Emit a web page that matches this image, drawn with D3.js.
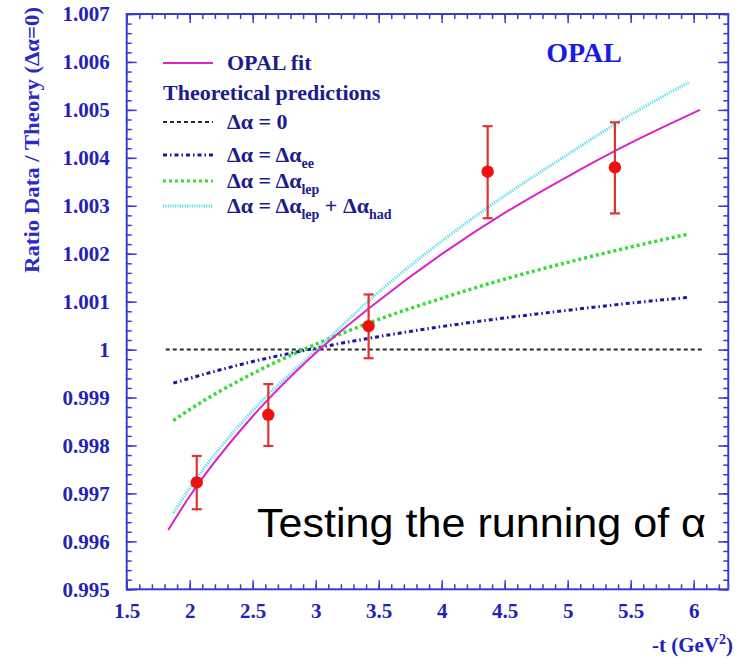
<!DOCTYPE html>
<html><head><meta charset="utf-8">
<script src="https://cdn.jsdelivr.net/npm/d3@7/dist/d3.min.js"></script>
<style>body{margin:0;background:#fff}svg{display:block}</style></head>
<body><svg id="c" width="737" height="659"></svg>
<script>
// ---- data ----
const xTicks = [1.5, 2, 2.5, 3, 3.5, 4, 4.5, 5, 5.5, 6];
const xTickLabels = ["1.5", "2", "2.5", "3", "3.5", "4", "4.5", "5", "5.5", "6"];
const yTicks = [0.995, 0.996, 0.997, 0.998, 0.999, 1.000, 1.001, 1.002, 1.003, 1.004, 1.005, 1.006, 1.007];
const yTickLabels = ["0.995", "0.996", "0.997", "0.998", "0.999", "1", "1.001", "1.002", "1.003", "1.004", "1.005", "1.006", "1.007"];

const pointT     = [2.056, 2.624, 3.42, 4.365, 5.375];
const pointRatio = [0.99723, 0.99864, 1.00049, 1.00371, 1.00380];
const errHigh    = [0.99778, 0.99928, 1.00115, 1.00466, 1.00474];
const errLow     = [0.99667, 0.99799, 0.99982, 1.00274, 1.00284];

const fitT     = [1.83, 2.0, 2.5, 3.0, 3.5, 4.0, 4.5, 5.0, 5.5, 6.05];
const fitRatio = [0.99624, 0.99694, 0.99861, 0.99993, 1.00102, 1.00199, 1.00285, 1.00361, 1.00431, 1.00500];

const zeroT     = [1.81, 6.08];
const zeroRatio = [1.0, 1.0];

const theoryT  = [1.87, 2.0, 2.5, 3.0, 3.5, 4.0, 4.5, 5.0, 5.5, 5.96];
const eeRatio  = [0.99930, 0.99940, 0.99975, 1.00003, 1.00027, 1.00048, 1.00066, 1.00082, 1.00097, 1.00109];
const lepRatio = [0.99852, 0.99875, 0.99950, 1.00011, 1.00063, 1.00107, 1.00147, 1.00182, 1.00214, 1.00241];
const hadRatio = [0.99659, 0.99711, 0.99873, 0.99998, 1.00120, 1.00226, 1.00321, 1.00407, 1.00490, 1.00557];

// ---- setup ----
const svg = d3.select("#c");
svg.append("rect").attr("width", 737).attr("height", 659).attr("fill", "#fff");
const X0 = 126.7, X1 = 728.3, Y0 = 14, Y1 = 589.3;
const x = d3.scaleLinear().domain([1.5, 6.275]).range([X0, X1]);
const y = d3.scaleLinear().domain([0.995, 1.007]).range([Y1, Y0]);

const AX = "#3a3acf", LAB = "#2222b8", NAVY = "#1c1c8c";
const SERIF = "'Liberation Serif','Times New Roman',serif";

const xMinor = d3.range(1.5, 6.27, 0.1).map(v => +v.toFixed(2));
const yMinor = d3.range(0.995, 1.00701, 0.0002).map(v => +v.toFixed(5));

function styleAxis(g) {
  g.select(".domain").remove();
  g.selectAll("line").attr("stroke", AX).attr("stroke-width", 1.5);
  g.selectAll("text").attr("fill", LAB).attr("font-family", SERIF)
    .attr("font-weight", "bold").attr("font-size", 21);
}
// bottom
svg.append("g").attr("transform", `translate(0,${Y1})`)
  .call(d3.axisBottom(x).tickValues(xMinor).tickSize(-5).tickFormat("")).call(styleAxis);
svg.append("g").attr("transform", `translate(0,${Y1})`)
  .call(d3.axisBottom(x).tickValues(xTicks).tickFormat((d, i) => xTickLabels[i])
    .tickSizeInner(-9).tickSizeOuter(0).tickPadding(14)).call(styleAxis);
// top
svg.append("g").attr("transform", `translate(0,${Y0})`)
  .call(d3.axisTop(x).tickValues(xMinor).tickSize(-5).tickFormat("")).call(styleAxis);
svg.append("g").attr("transform", `translate(0,${Y0})`)
  .call(d3.axisTop(x).tickValues(xTicks).tickSize(-9).tickFormat("")).call(styleAxis);
// left
svg.append("g").attr("transform", `translate(${X0},0)`)
  .call(d3.axisLeft(y).tickValues(yMinor).tickSize(-5).tickFormat("")).call(styleAxis);
svg.append("g").attr("transform", `translate(${X0},0)`)
  .call(d3.axisLeft(y).tickValues(yTicks).tickFormat((d, i) => yTickLabels[i])
    .tickSizeInner(-10).tickSizeOuter(0).tickPadding(17)).call(styleAxis);
// right
svg.append("g").attr("transform", `translate(${X1},0)`)
  .call(d3.axisRight(y).tickValues(yMinor).tickSize(-5).tickFormat("")).call(styleAxis);
svg.append("g").attr("transform", `translate(${X1},0)`)
  .call(d3.axisRight(y).tickValues(yTicks).tickSize(-10).tickFormat("")).call(styleAxis);

// frame
svg.append("rect").attr("x", X0).attr("y", Y0).attr("width", X1 - X0).attr("height", Y1 - Y0)
  .attr("fill", "none").attr("stroke", AX).attr("stroke-width", 2);

// ---- curves ----
const line = d3.line().x(d => x(d[0])).y(d => y(d[1])).curve(d3.curveMonotoneX);
const series = [
  { t: zeroT, r: zeroRatio, color: "#2a2a2a", width: 2, dash: "4,3" },
  { t: theoryT, r: eeRatio, color: "#1a1a9c", width: 3, dash: "4,3,1.5,3" },
  { t: theoryT, r: lepRatio, color: "#33dd33", width: 3.5, dash: "3,3" },
  { t: theoryT, r: hadRatio, color: "#5cdde6", width: 3, dash: "1.2,1.2" },
  { t: fitT, r: fitRatio, color: "#dd22cc", width: 2, dash: null }
];
series.forEach(s => {
  svg.append("path").datum(s.t.map((t, i) => [t, s.r[i]]))
    .attr("d", line).attr("fill", "none").attr("stroke", s.color)
    .attr("stroke-width", s.width).attr("stroke-dasharray", s.dash);
});

// ---- data points ----
const pts = pointT.map((t, i) => ({ t, r: pointRatio[i], hi: errHigh[i], lo: errLow[i] }));
const pg = svg.append("g");
pg.selectAll(".eb").data(pts).join("line")
  .attr("x1", d => x(d.t)).attr("x2", d => x(d.t)).attr("y1", d => y(d.hi)).attr("y2", d => y(d.lo))
  .attr("stroke", "#dd3333").attr("stroke-width", 2.2);
["hi", "lo"].forEach(k => {
  pg.selectAll(".cap" + k).data(pts).join("line")
    .attr("x1", d => x(d.t) - 5).attr("x2", d => x(d.t) + 5)
    .attr("y1", d => y(d[k])).attr("y2", d => y(d[k]))
    .attr("stroke", "#dd3333").attr("stroke-width", 2.2);
});
pg.selectAll("circle").data(pts).join("circle")
  .attr("cx", d => x(d.t)).attr("cy", d => y(d.r)).attr("r", 6.2).attr("fill", "#ee1111");

// ---- legend ----
const leg = svg.append("g").attr("font-family", SERIF).attr("font-weight", "bold").attr("fill", NAVY);
const legendRows = [
  { y: 63, s: series[4], label: [["OPAL fit"]] },
  { y: 122, s: series[0], label: [["Δα = 0"]] },
  { y: 155, s: series[1], label: [["Δα = Δα"], ["ee", "sub"]] },
  { y: 181, s: series[2], label: [["Δα = Δα"], ["lep", "sub"]] },
  { y: 206, s: series[3], label: [["Δα = Δα"], ["lep", "sub"], [" + Δα"], ["had", "sub"]] }
];
legendRows.forEach(r => {
  leg.append("line").attr("x1", 163).attr("x2", 213).attr("y1", r.y).attr("y2", r.y)
    .attr("stroke", r.s.color).attr("stroke-width", Math.min(r.s.width, 3)).attr("stroke-dasharray", r.s.dash);
  const t = leg.append("text").attr("x", 227).attr("y", r.y + 7).attr("font-size", 22);
  r.label.forEach(([txt, kind]) => {
    const ts = t.append("tspan").text(txt);
    if (kind === "sub") ts.attr("font-size", 14).attr("dy", 6);
    else if (r.label.length > 1 && txt.startsWith(" ")) ts.attr("dy", -6);
  });
});
leg.append("text").attr("x", 163).attr("y", 100).attr("font-size", 22).text("Theoretical predictions");

svg.append("text").attr("x", 584).attr("y", 62).attr("text-anchor", "middle")
  .attr("font-family", SERIF).attr("font-weight", "bold").attr("font-size", 28)
  .attr("fill", "#1a1ae6").text("OPAL");

// axis titles
svg.append("text").attr("transform", "translate(39,7) rotate(-90)").attr("text-anchor", "end")
  .attr("font-family", SERIF).attr("font-weight", "bold").attr("font-size", 21)
  .attr("textLength", 266).attr("lengthAdjust", "spacingAndGlyphs")
  .attr("fill", "#2a2ac8").text("Ratio Data / Theory (Δα=0)");
const xt = svg.append("text").attr("x", 733).attr("y", 652).attr("text-anchor", "end")
  .attr("font-family", SERIF).attr("font-weight", "bold").attr("font-size", 21).attr("fill", "#2222b8");
xt.append("tspan").text("-t (GeV");
xt.append("tspan").attr("font-size", 14).attr("dy", -8).text("2");
xt.append("tspan").attr("dy", 8).text(")");

// annotation
svg.append("text").attr("x", 257).attr("y", 537).attr("font-family", "'Liberation Sans',Arial,sans-serif")
  .attr("font-size", 40).attr("textLength", 449).attr("lengthAdjust", "spacingAndGlyphs")
  .attr("fill", "#000").text("Testing the running of α");
</script></body></html>
